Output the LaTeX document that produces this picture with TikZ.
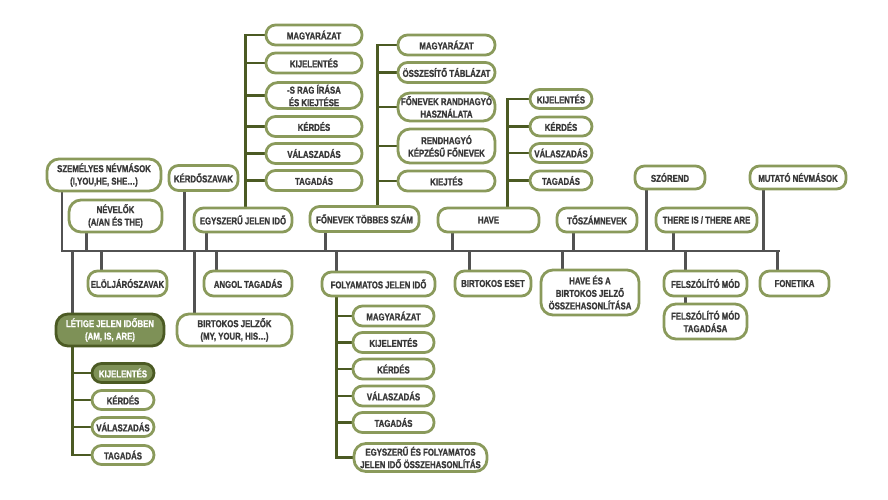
\documentclass[tikz,border=0pt]{standalone}
\usepackage{fontspec}
\newfontfamily\topicfont[FakeStretch=0.78, BoldFeatures={FakeBold=1.2}]{Liberation Sans}
\usetikzlibrary{backgrounds}
\definecolor{boxgreen}{HTML}{8A9A5B}
\definecolor{stemgreen}{HTML}{4B5A23}
\definecolor{fillgreen}{HTML}{7E9157}
\definecolor{linegray}{HTML}{525252}
\definecolor{textgray}{HTML}{383838}
\tikzset{
  topic/.style n args={2}{draw=boxgreen, line width=2.8pt, rounded corners=9.5pt, fill=white,
    text=textgray, font=\topicfont\bfseries\fontsize{10}{12.5}\selectfont, align=center,
    inner sep=0pt, minimum width=#1pt, minimum height=#2pt},
  hitopic/.style n args={2}{topic={#1}{#2}, draw=stemgreen, fill=fillgreen, text=white},
  round/.style={rounded corners=12pt},
  trunk/.style={linegray, line width=2.6pt, line cap=rect},
  branch/.style={stemgreen, line width=2.6pt, line cap=rect},
}
\begin{document}
\begin{tikzpicture}[x=1pt, y=-1pt]
\useasboundingbox (0,0) rectangle (888,500);
\coordinate (spineL) at (63,251);
\coordinate (spineR) at (779,251);
% above the line
\node[topic={114}{32}, round] (szem) at (104,175) {SZEMÉLYES NÉVMÁSOK\\(I,YOU,HE, SHE…)};
\node[topic={93}{32}, round] (nevelo) at (115.5,216) {NÉVELŐK\\(A/AN ÉS THE)};
\node[topic={69}{25}] (kerdo) at (203.5,178) {KÉRDŐSZAVAK};
\node[topic={98}{24}] (egysz) at (243,220) {EGYSZERŰ JELEN IDŐ};
\node[topic={109}{25}] (fonev) at (364.5,219) {FŐNEVEK TÖBBES SZÁM};
\node[topic={101}{24}] (have) at (488.5,220) {HAVE};
\node[topic={80}{24}] (tosz) at (597,220) {TŐSZÁMNEVEK};
\node[topic={70}{23}] (szorend) at (670,177.5) {SZÓREND};
\node[topic={101}{24}] (there) at (706.5,220) {THERE IS / THERE ARE};
\node[topic={96}{23}] (mutato) at (798,177.5) {MUTATÓ NÉVMÁSOK};
% below the line
\node[topic={79}{25}] (elolj) at (127.5,283.5) {ELÖLJÁRÓSZAVAK};
\node[topic={88}{25}] (angol) at (248,283.5) {ANGOL TAGADÁS};
\node[hitopic={108}{32}, round] (letige) at (110,330) {LÉTIGE JELEN IDŐBEN\\(AM, IS, ARE)};
\node[topic={115}{32}, round] (birtj) at (234.5,330) {BIRTOKOS JELZŐK\\(MY, YOUR, HIS…)};
\node[topic={113}{24}] (folyam) at (378.5,284) {FOLYAMATOS JELEN IDŐ};
\node[topic={76}{25}] (birte) at (493,283.5) {BIRTOKOS ESET};
\node[topic={98}{45}, round] (havebirt) at (590,292.5) {HAVE ÉS A\\BIRTOKOS JELZŐ\\ÖSSZEHASONLÍTÁSA};
\node[topic={83}{25}] (felsz) at (705.5,283.5) {FELSZÓLÍTÓ MÓD};
\node[topic={83}{35}, round] (felsztag) at (705.5,321.5) {FELSZÓLÍTÓ MÓD\\TAGADÁSA};
\node[topic={69}{25}] (fonet) at (794.5,283.5) {FONETIKA};
% egyszeru jelen ido
\node[topic={96}{20}] (eg1) at (314,35) {MAGYARÁZAT};
\node[topic={96}{20}] (eg2) at (314,63) {KIJELENTÉS};
\node[topic={96}{26}, round] (eg3) at (314,95.5) {-S RAG ÍRÁSA\\ÉS KIEJTÉSE};
\node[topic={96}{20}] (eg4) at (314,126.5) {KÉRDÉS};
\node[topic={96}{20}] (eg5) at (314,153.5) {VÁLASZADÁS};
\node[topic={96}{20}] (eg6) at (314,180.5) {TAGADÁS};
% fonevek
\node[topic={97}{20}] (fo1) at (446.5,45) {MAGYARÁZAT};
\node[topic={97}{20}] (fo2) at (446.5,72.5) {ÖSSZESÍTŐ TÁBLÁZAT};
\node[topic={97}{28}, round] (fo3) at (446.5,107) {FŐNEVEK RANDHAGYÓ\\HASZNÁLATA};
\node[topic={97}{34}, round] (fo4) at (446.5,146) {RENDHAGYÓ\\KÉPZÉSŰ FŐNEVEK};
\node[topic={97}{20}] (fo5) at (446.5,181) {KIEJTÉS};
% have
\node[topic={62}{19}] (ha1) at (561,99) {KIJELENTÉS};
\node[topic={62}{19}] (ha2) at (561,126.5) {KÉRDÉS};
\node[topic={62}{19}] (ha3) at (561,153) {VÁLASZADÁS};
\node[topic={62}{19}] (ha4) at (561,180.5) {TAGADÁS};
% letige
\node[hitopic={62}{19}] (le1) at (123,373) {KIJELENTÉS};
\node[topic={62}{19}] (le2) at (123,400) {KÉRDÉS};
\node[topic={62}{19}] (le3) at (123,427) {VÁLASZADÁS};
\node[topic={62}{19}] (le4) at (123,455) {TAGADÁS};
% folyamatos jelen ido
\node[topic={81}{20}] (fy1) at (393.5,316) {MAGYARÁZAT};
\node[topic={81}{20}] (fy2) at (393.5,342.5) {KIJELENTÉS};
\node[topic={81}{20}] (fy3) at (393.5,369) {KÉRDÉS};
\node[topic={81}{20}] (fy4) at (393.5,396) {VÁLASZADÁS};
\node[topic={81}{20}] (fy5) at (393.5,422.5) {TAGADÁS};
\node[topic={133}{28}, round] (fy6) at (420.5,457.5) {EGYSZERŰ ÉS FOLYAMATOS\\JELEN IDŐ ÖSSZEHASONLÍTÁS};
\coordinate (egstem) at ([xshift=53pt]egysz.north west);
\coordinate (fostem) at ([xshift=69pt]fonev.north west);
\coordinate (hastem) at ([xshift=71pt]have.north west);
\coordinate (lestem) at ([xshift=18pt]letige.south west);
\coordinate (fystem) at ([xshift=16pt]folyam.south west);
\begin{scope}[on background layer]
  \draw[trunk] (spineL) -- (spineR);
  \foreach \n/\d in {szem/16.5, nevelo/19, kerdo/17, egysz/14, fonev/17, have/16, tosz/18, szorend/13, there/19, mutato/15}{
    \draw[trunk] ([xshift=\d pt]\n.south west) -- ([xshift=\d pt]\n.south west |- spineL);
  }
  \foreach \n/\d in {elolj/15, angol/14, letige/18, birtj/19, folyam/16, birte/16, havebirt/23, felsz/23, fonet/19}{
    \draw[trunk] ([xshift=\d pt]\n.north west) -- ([xshift=\d pt]\n.north west |- spineL);
  }
  \draw[trunk] ([xshift=23pt]felsz.south west) -- ([xshift=23pt]felsz.south west |- felsztag.north);
  \draw[branch] (egstem) |- (eg1.west);
  \foreach \i in {2,...,6} \draw[branch] (eg\i.west) -- (eg\i.west -| egstem);
  \draw[branch] (fostem) |- (fo1.west);
  \foreach \i in {2,...,5} \draw[branch] (fo\i.west) -- (fo\i.west -| fostem);
  \draw[branch] (hastem) |- (ha1.west);
  \foreach \i in {2,...,4} \draw[branch] (ha\i.west) -- (ha\i.west -| hastem);
  \draw[branch] (lestem) |- (le4.west);
  \foreach \i in {1,...,3} \draw[branch] (le\i.west) -- (le\i.west -| lestem);
  \draw[branch] (fystem) |- (fy6.west);
  \foreach \i in {1,...,5} \draw[branch] (fy\i.west) -- (fy\i.west -| fystem);
\end{scope}
\end{tikzpicture}
\end{document}
